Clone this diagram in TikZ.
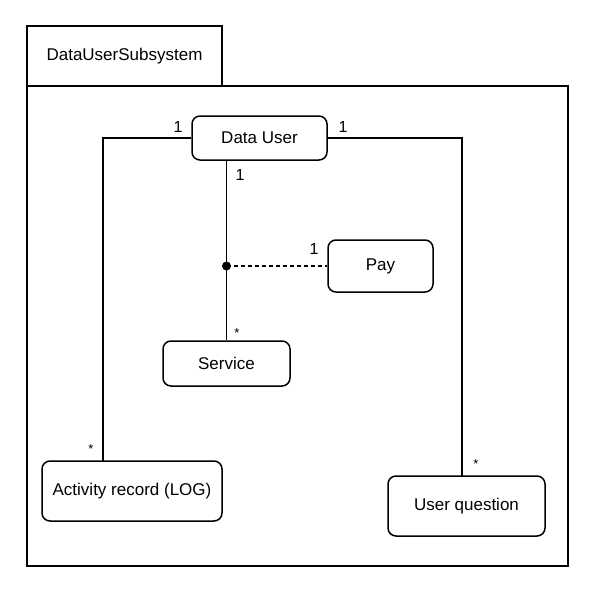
\documentclass[tikz,border=0pt]{standalone}
\usepackage{fontspec}
\setmainfont{Liberation Sans}
\usepackage{tikz}
\usetikzlibrary{positioning}

\tikzset{
	cls/.style = {draw, rounded corners=8pt, line width=1.5pt, align=center, inner sep=0pt},
	assoc/.style = {line width=1.5pt},
	mult/.style = {inner sep=1pt, font=\fontsize{16}{19}\selectfont},
	many/.style = {inner sep=1pt, font=\fontsize{13}{15}\selectfont}
}

\begin{document}
\begin{tikzpicture}[x=1pt, y=-1pt, font=\fontsize{17}{20}\selectfont]
		\useasboundingbox (0,0) rectangle (591,611);
		% package frame
		\node[draw, line width=1.5pt, minimum width=195pt, minimum height=60pt, inner sep=0pt] (tab) at (124.5,56) {DataUserSubsystem};
		\draw[line width=1.5pt] (27,86) rectangle (568,566);
		% classes
		\node[cls, minimum width=135pt, minimum height=44pt] (du) at (259.5,138) {Data User};
		\node[cls, minimum width=105pt, minimum height=52pt] (pay) at (380.5,266) {Pay};
		\node[cls, minimum width=127pt, minimum height=45pt] (svc) at (226.5,363.5) {Service};
		\node[cls, minimum width=180pt, minimum height=60pt] (act) at (132,491) {Activity record (LOG)};
		\node[cls, minimum width=157pt, minimum height=60pt] (uq) at (466.5,506) {User question};
		\coordinate (actTop) at (103,461);
		\coordinate (uqTop) at (462,476);
		\coordinate (knot) at (svc.north |- pay.west);
		% associations
		\draw[assoc] (du.west) -| (actTop);
		\draw[assoc] (du.east) -| (uqTop);
		\draw[assoc] (svc.north |- du.south) -- (svc.north);
		\draw[assoc, dashed, dash pattern=on 4pt off 3pt] (knot) -- (pay.west);
		\fill (knot) circle (4.5pt);
		% multiplicities
		\node[mult] (m1) at (178,127) {1};
		\node[mult] (m2) at (343,127) {1};
		\node[mult] (m3) at (240,175) {1};
		\node[mult] (m4) at (314,249) {1};
		\node[many] (m5) at (237,333) {*};
		\node[many] (m6) at (91,449) {*};
		\node[many] (m7) at (476,464) {*};
	\end{tikzpicture}
\end{document}
